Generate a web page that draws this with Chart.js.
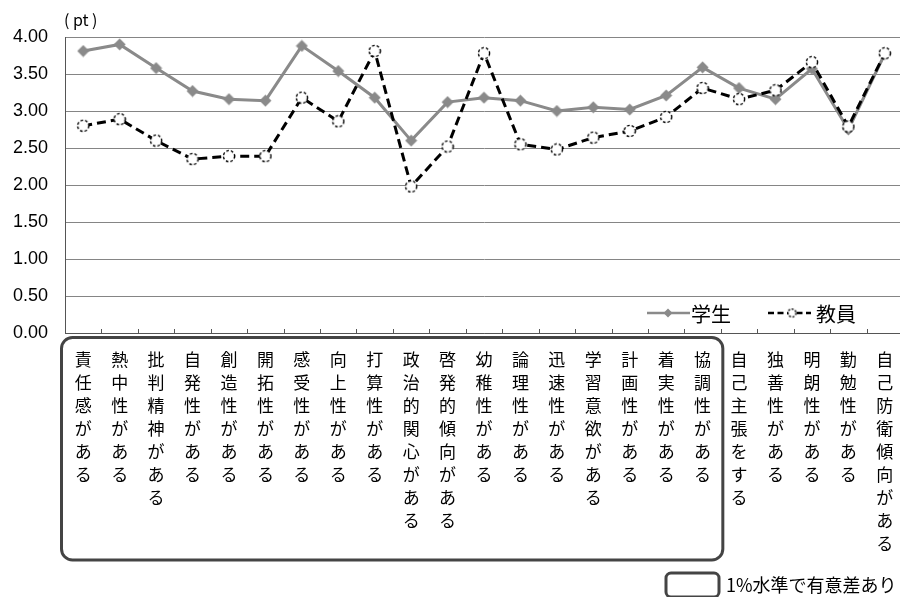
<!DOCTYPE html>
<html>
<head>
<meta charset="utf-8">
<script src="https://cdn.jsdelivr.net/npm/chart.js@4/dist/chart.umd.min.js"></script>
<style>
  html, body { margin: 0; padding: 0; background: #fff; overflow: hidden; }
  #wrap { position: relative; width: 900px; height: 597px; overflow: hidden; }
  #c { display: block; }
</style>
</head>
<body>
<div id="wrap"><canvas id="c" width="903" height="597"></canvas></div>
<script>
// Trait items (x categories)
const categories = [
  '責任感がある', '熱中性がある', '批判精神がある', '自発性がある', '創造性がある',
  '開拓性がある', '感受性がある', '向上性がある', '打算性がある', '政治的関心がある',
  '啓発的傾向がある', '幼稚性がある', '論理性がある', '迅速性がある', '学習意欲がある',
  '計画性がある', '着実性がある', '協調性がある', '自己主張をする', '独善性がある',
  '明朗性がある', '勤勉性がある', '自己防衛傾向がある'
];

// Mean scores (pt)
const studentScores = [
  3.81, 3.90, 3.58, 3.27, 3.16, 3.14, 3.88, 3.54, 3.18, 2.60,
  3.12, 3.18, 3.14, 3.00, 3.05, 3.02, 3.21, 3.59, 3.31, 3.16,
  3.57, 2.75, 3.77
];
const teacherScores = [
  2.80, 2.89, 2.60, 2.35, 2.39, 2.39, 3.18, 2.86, 3.81, 1.98,
  2.52, 3.78, 2.55, 2.48, 2.64, 2.73, 2.92, 3.31, 3.16, 3.28,
  3.66, 2.79, 3.78
];

// Number of leading items with a significant difference at the 1% level
const significantCount = 18;

const seriesNames = ['学生', '教員'];
const yTicks = [0, 0.5, 1, 1.5, 2, 2.5, 3, 3.5, 4];
const noteLabel = '1%水準で有意差あり';

const FONT = '"Liberation Sans", "Noto Sans CJK JP", sans-serif';
const JFONT = '"Noto Sans CJK JP", "Liberation Sans", sans-serif';
const GRAY = '#8a8a8a';

function diamondImage(size, color) {
  const cv = document.createElement('canvas');
  cv.width = size; cv.height = size;
  const g = cv.getContext('2d');
  const h = size / 2;
  g.fillStyle = color;
  g.beginPath();
  g.moveTo(h, 0.5); g.lineTo(size - 0.5, h); g.lineTo(h, size - 0.5); g.lineTo(0.5, h);
  g.closePath(); g.fill();
  return cv;
}
function dashedCircleImage(size, r, dash) {
  const cv = document.createElement('canvas');
  cv.width = size; cv.height = size;
  const g = cv.getContext('2d');
  g.fillStyle = '#fff';
  g.strokeStyle = '#000';
  g.lineWidth = 1.4;
  g.setLineDash(dash);
  g.beginPath();
  g.arc(size / 2, size / 2, r, 0, Math.PI * 2);
  g.fill(); g.stroke();
  return cv;
}

const diamondPt = diamondImage(13, GRAY);
const circlePt = dashedCircleImage(14, 5.6, [2.6, 2]);
const diamondLeg = diamondImage(10, GRAY);
const circleLeg = dashedCircleImage(11, 4, [2, 1.6]);

function roundRectPath(ctx, x, y, w, h, r) {
  ctx.beginPath();
  ctx.moveTo(x + r, y);
  ctx.lineTo(x + w - r, y);
  ctx.arcTo(x + w, y, x + w, y + r, r);
  ctx.lineTo(x + w, y + h - r);
  ctx.arcTo(x + w, y + h, x + w - r, y + h, r);
  ctx.lineTo(x + r, y + h);
  ctx.arcTo(x, y + h, x, y + h - r, r);
  ctx.lineTo(x, y + r);
  ctx.arcTo(x, y, x + r, y, r);
  ctx.closePath();
}

// Extra drawing: unit label, inside tick marks, legend, significance frame and note
const decorations = {
  id: 'decorations',
  afterDraw(chart) {
    const ctx = chart.ctx;
    const area = chart.chartArea;
    const xs = chart.scales.x;
    const n = categories.length;
    const step = (area.right - area.left) / n;
    ctx.save();

    // unit label
    ctx.fillStyle = '#000';
    ctx.font = '16px ' + JFONT;
    ctx.textAlign = 'left';
    ctx.textBaseline = 'middle';
    ctx.fillText('(', 64, 20);
    ctx.fillText('pt', 73, 20);
    ctx.fillText(')', 92, 20);

    // inside tick marks on the category axis
    ctx.strokeStyle = '#555';
    ctx.lineWidth = 1;
    ctx.beginPath();
    for (let i = 1; i <= n; i++) {
      const x = Math.round(area.left + i * step) + 0.5;
      ctx.moveTo(x, area.bottom - 4);
      ctx.lineTo(x, area.bottom);
    }
    ctx.stroke();

    // legend
    const ly = 313;
    ctx.lineWidth = 2.5;
    ctx.strokeStyle = GRAY;
    ctx.setLineDash([]);
    ctx.beginPath(); ctx.moveTo(647, ly); ctx.lineTo(690, ly); ctx.stroke();
    ctx.drawImage(diamondLeg, 668 - 5, ly - 5);
    ctx.strokeStyle = '#000';
    ctx.setLineDash([6, 3.5]);
    ctx.beginPath(); ctx.moveTo(768, ly); ctx.lineTo(811, ly); ctx.stroke();
    ctx.setLineDash([]);
    ctx.drawImage(circleLeg, 792 - 5.5, ly - 5.5);
    ctx.fillStyle = '#000';
    ctx.font = '20px ' + JFONT;
    ctx.textBaseline = 'middle';
    ctx.fillText(seriesNames[0], 691, ly + 1);
    ctx.fillText(seriesNames[1], 816, ly + 1);

    // frame around the significant items
    const left = xs.getPixelForValue(0) - step / 2 - 3.5;
    const right = xs.getPixelForValue(significantCount - 1) + step / 2 + 2;
    const top = area.bottom + 4.5;
    const bottom = 560;
    ctx.lineWidth = 3;
    ctx.strokeStyle = '#444';
    roundRectPath(ctx, left, top, right - left, bottom - top, 11);
    ctx.stroke();

    // note
    ctx.lineWidth = 3;
    roundRectPath(ctx, 666, 573, 53, 24, 5);
    ctx.stroke();
    ctx.font = '18px ' + JFONT;
    ctx.fillText(noteLabel, 726, 585);

    ctx.restore();
  }
};

new Chart(document.getElementById('c'), {
  type: 'line',
  data: {
    labels: categories,
    datasets: [
      {
        label: seriesNames[0],
        data: studentScores,
        borderColor: GRAY,
        backgroundColor: GRAY,
        borderWidth: 3,
        pointStyle: diamondPt,
        pointRadius: 6,
        tension: 0,
        order: 1
      },
      {
        label: seriesNames[1],
        data: teacherScores,
        borderColor: '#000',
        backgroundColor: '#fff',
        borderWidth: 3,
        borderDash: [9, 5],
        pointStyle: circlePt,
        pointRadius: 6,
        tension: 0,
        order: 0
      }
    ]
  },
  options: {
    responsive: false,
    maintainAspectRatio: false,
    animation: false,
    devicePixelRatio: 1,
    layout: { autoPadding: false, padding: { top: 37, right: 0, left: 0, bottom: 0 } },
    plugins: {
      legend: { display: false },
      tooltip: { enabled: false },
      title: { display: false }
    },
    scales: {
      x: {
        type: 'category',
        offset: true,
        grid: { display: false, drawTicks: false },
        border: { display: true, color: '#555', width: 1 },
        ticks: {
          autoSkip: false,
          maxRotation: 0,
          minRotation: 0,
          padding: 15,
          color: '#000',
          font: { family: JFONT, size: 17, lineHeight: '23px' },
          callback: function (v) { return Array.from(this.getLabelForValue(v)); }
        },
        afterFit(scale) {
          scale.height = 264;
          scale.paddingLeft = 0;
          scale.paddingRight = 0;
        }
      },
      y: {
        min: 0,
        max: 4,
        afterBuildTicks(scale) { scale.ticks = yTicks.map(v => ({ value: v })); },
        grid: { color: '#858585', lineWidth: 1, drawTicks: false },
        border: { display: true, color: '#555', width: 1 },
        ticks: {
          padding: 17,
          color: '#000',
          font: { family: FONT, size: 18 },
          callback: v => Number(v).toFixed(2)
        },
        afterFit(scale) { scale.width = 65; }
      }
    }
  },
  plugins: [decorations]
});
</script>
</body>
</html>
